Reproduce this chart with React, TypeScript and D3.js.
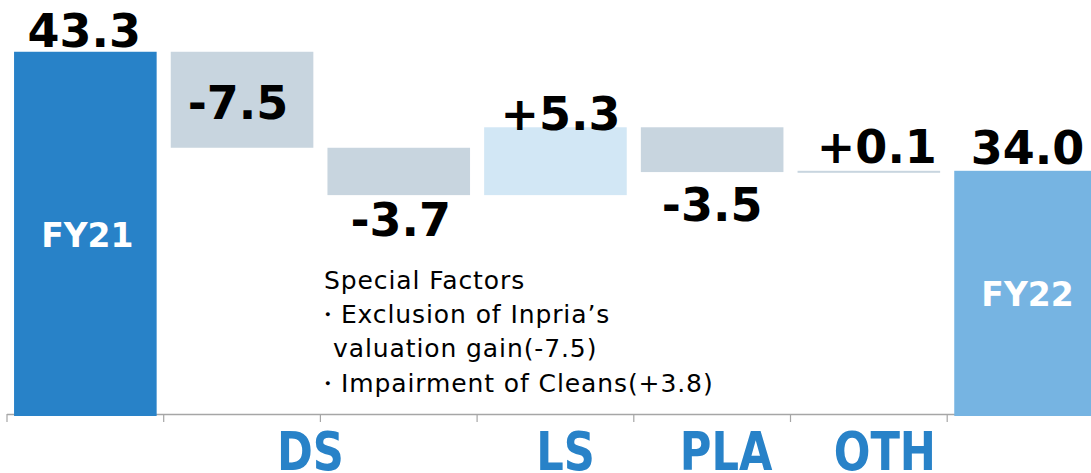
import React from "react";
import * as d3 from "d3";

// ---- data ----
const categories = ["FY21", "SF", "DS", "LS", "PLA", "OTH", "FY22"];
const kinds = ["total", "delta", "delta", "delta", "delta", "delta", "total"];
const values = [43.3, -7.5, -3.7, 5.3, -3.5, 0.1, 34.0];
const valueLabels = ["43.3", "-7.5", "-3.7", "+5.3", "-3.5", "+0.1", "34.0"];
const barNames = ["FY21", "", "", "", "", "", "FY22"];
const axisGroupLabels = ["DS", "LS", "PLA", "OTH"];
const axisGroupFrom = ["SF", "LS", "PLA", "OTH"];
const axisGroupTo = ["DS", "LS", "PLA", "OTH"];
const noteLines = [
  "Special Factors",
  "・Exclusion of Inpria’s",
  "valuation gain(-7.5)",
  "・Impairment of Cleans(+3.8)",
];
const yDomain = [15, 45];

// ---- layout / style ----
const W = 1091;
const H = 473;
const BASE_Y = 414;
const PX_PER_UNIT = 12.8;
const colors: Record<string, string> = {
  FY21: "#2882C8",
  SF: "#C8D5DF",
  DS: "#C8D5DF",
  LS: "#D2E7F5",
  PLA: "#C8D5DF",
  OTH: "#C8D5DF",
  FY22: "#76B4E2",
};
// label placement: mode relative to bar, plus small nudges
const labelPlace: Record<string, { mode: string; dy: number; dx: number }> = {
  FY21: { mode: "above", dy: -5, dx: -1 },
  SF: { mode: "inside", dy: 19, dx: -4 },
  DS: { mode: "below", dy: 41, dx: 2 },
  LS: { mode: "above", dy: 3, dx: 5 },
  PLA: { mode: "below", dy: 49, dx: 0 },
  OTH: { mode: "above", dy: -8, dx: 8 },
  FY22: { mode: "above", dy: -7, dx: 2 },
};
const axisLabelNudge: Record<string, number> = { DS: -10, LS: 10, PLA: 14, OTH: 16 };
const noteX = [324, 315, 333, 315];
const noteY = [289, 323, 357, 392];

const FONT = "'DejaVu Sans', Verdana, sans-serif";

export default function App() {
  const step = 156.7;
  const x = d3
    .scaleBand<string>()
    .domain(categories)
    .range([7, 7 + step * categories.length])
    .padding(0);
  const y = d3
    .scaleLinear()
    .domain(yDomain)
    .range([BASE_Y, BASE_Y - (yDomain[1] - yDomain[0]) * PX_PER_UNIT]);

  const bw = x.bandwidth();
  const barOff = bw * 0.045;
  const barW = bw * 0.91;

  // waterfall
  let running = 0;
  const bars = categories.map((c, i) => {
    let lo: number, hi: number;
    if (kinds[i] === "total") {
      lo = yDomain[0];
      hi = values[i];
      running = values[i];
    } else {
      const start = running;
      const end = running + values[i];
      lo = Math.min(start, end);
      hi = Math.max(start, end);
      running = end;
    }
    const top = y(hi);
    const bottom = y(lo);
    return { c, i, top, bottom, x0: (x(c) as number) + barOff };
  });

  const tickXs = categories.map((c) => x(c) as number);

  return (
    <svg
      width={W}
      height={H}
      style={{ position: "absolute", left: 0, top: 0, background: "#fff" }}
    >
      {/* axis */}
      <line x1={7} x2={W} y1={BASE_Y + 0.5} y2={BASE_Y + 0.5} stroke="#A6A6A6" strokeWidth={1.5} />
      {tickXs.map((tx, i) => (
        <line key={i} x1={tx} x2={tx} y1={BASE_Y} y2={BASE_Y + 8} stroke="#A6A6A6" strokeWidth={1.2} />
      ))}

      {/* bars */}
      {bars.map((b) => (
        <rect
          key={b.c}
          x={b.x0}
          y={b.top}
          width={barW}
          height={Math.max(2, b.bottom - b.top + (kinds[b.i] === "total" ? 2 : 0))}
          fill={colors[b.c]}
        />
      ))}

      {/* value labels */}
      {bars.map((b) => {
        const p = labelPlace[b.c];
        const cx = b.x0 + barW / 2 + p.dx;
        let by: number;
        if (p.mode === "above") by = b.top + p.dy;
        else if (p.mode === "below") by = b.bottom + p.dy;
        else by = (b.top + b.bottom) / 2 + p.dy;
        return (
          <text
            key={"v" + b.c}
            x={cx}
            y={by}
            textAnchor="middle"
            fontFamily={FONT}
            fontWeight="bold"
            fontSize={46}
            fill="#000"
          >
            {valueLabels[b.i]}
          </text>
        );
      })}

      {/* names inside total bars */}
      {bars.map((b) =>
        barNames[b.i] ? (
          <text
            key={"n" + b.c}
            x={b.x0 + barW / 2 + 2}
            y={(b.top + b.bottom) / 2 + 14}
            textAnchor="middle"
            fontFamily={FONT}
            fontWeight="bold"
            fontSize={33}
            fill="#fff"
          >
            {barNames[b.i]}
          </text>
        ) : null
      )}

      {/* category group labels */}
      {axisGroupLabels.map((lab, i) => {
        const a = x(axisGroupFrom[i]) as number;
        const bEnd = (x(axisGroupTo[i]) as number) + bw;
        const cx = (a + bEnd) / 2 + axisLabelNudge[lab];
        return (
          <text
            key={"g" + lab}
            transform={`translate(${cx},${470}) scale(0.8,1)`}
            textAnchor="middle"
            fontFamily={FONT}
            fontWeight="bold"
            fontSize={54}
            fill="#2882C8"
          >
            {lab}
          </text>
        );
      })}

      {/* note */}
      <g fontFamily={FONT} fontSize={25} fill="#000" letterSpacing={0.9}>
        {noteLines.map((t, i) => (
          <text key={i} x={noteX[i]} y={noteY[i]}>
            {t}
          </text>
        ))}
      </g>
    </svg>
  );
}
